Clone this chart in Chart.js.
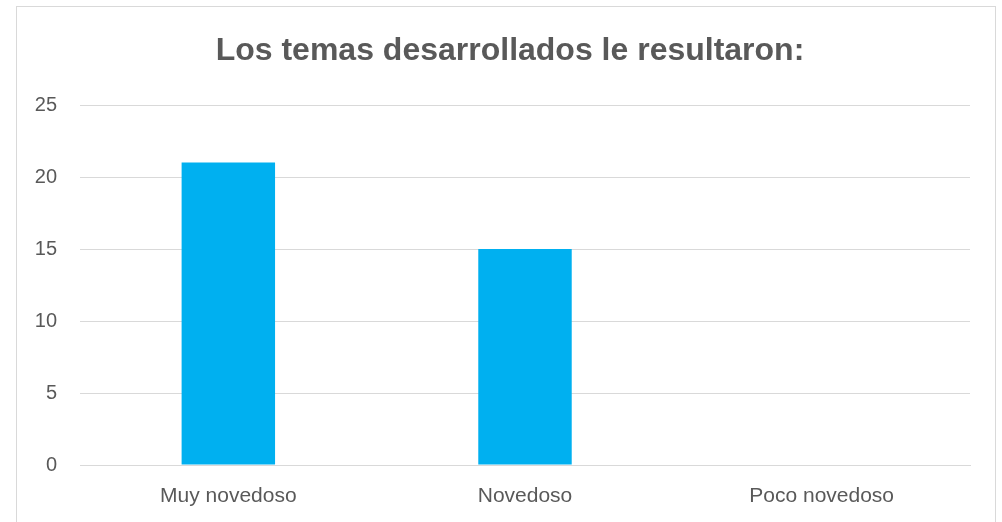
<!DOCTYPE html>
<html>
<head>
<meta charset="utf-8">
<script src="https://cdn.jsdelivr.net/npm/chart.js@4"></script>
<style>
  html, body { margin: 0; padding: 0; background: #fff; width: 1002px; height: 522px; overflow: hidden; }
  #frame { position: absolute; left: 16px; top: 6px; width: 980px; height: 540px; border: 1px solid #d9d9d9; box-sizing: border-box; }
  #wrap { position: absolute; left: 0; top: 0; width: 1002px; height: 522px; }
</style>
</head>
<body>
<div id="frame"></div>
<div id="wrap"><canvas id="c" width="1002" height="522"></canvas></div>
<script>
const titleText = "Los temas desarrollados le resultaron:";
const categories = ["Muy novedoso", "Novedoso", "Poco novedoso"];
const values = [21, 15, 0];
const yTicks = [0, 5, 10, 15, 20, 25];

const textColor = "#595959";
const gridColor = "#d9d9d9";
const fontFamily = "'Liberation Sans', Arial, sans-serif";

const titleDraw = {
  id: "titleDraw",
  afterDraw(chart) {
    const ctx = chart.ctx;
    ctx.save();
    ctx.font = "bold 32px " + fontFamily;
    ctx.fillStyle = textColor;
    ctx.textAlign = "center";
    ctx.textBaseline = "middle";
    ctx.fillText(titleText, 510, 51);
    ctx.restore();
  }
};

new Chart(document.getElementById("c"), {
  type: "bar",
  data: {
    labels: categories,
    datasets: [{
      data: values,
      backgroundColor: "#00B0F0",
      borderWidth: 0,
      barPercentage: 0.315,
      categoryPercentage: 1.0
    }]
  },
  options: {
    responsive: false,
    animation: false,
    devicePixelRatio: 1,
    layout: { padding: { left: 0, right: 32, top: 105, bottom: 0 } },
    plugins: {
      legend: { display: false },
      tooltip: { enabled: false },
      title: { display: false }
    },
    scales: {
      x: {
        grid: { display: false, drawTicks: false },
        border: { display: true, color: gridColor, width: 1 },
        ticks: { color: textColor, font: { family: fontFamily, size: 21 }, padding: 19 },
        afterFit: (s) => { s.height = 57; }
      },
      y: {
        min: 0,
        max: 25,
        afterBuildTicks: (s) => { s.ticks = yTicks.map(v => ({ value: v })); },
        grid: { color: gridColor, lineWidth: 1, drawTicks: false },
        border: { display: false },
        ticks: { color: textColor, font: { family: fontFamily, size: 20 }, padding: 23 },
        afterFit: (s) => { s.width = 80; }
      }
    }
  },
  plugins: [titleDraw]
});
</script>
</body>
</html>
